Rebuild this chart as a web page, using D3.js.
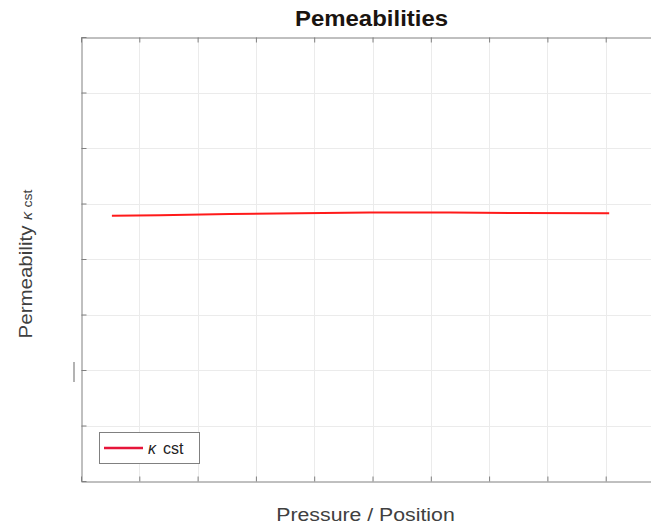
<!DOCTYPE html>
<html>
<head>
<meta charset="utf-8">
<script src="https://cdn.jsdelivr.net/npm/d3@7"></script>
<style>
  body { margin: 0; background: #fff; overflow: hidden; }
  text { font-family: "Liberation Sans", Arial, sans-serif; }
</style>
</head>
<body>
<div id="frame"></div>
<script>
// grid units: x 0..10, y 0..8 (axis has no tick labels)
const xTicks = [0, 1, 2, 3, 4, 5, 6, 7, 8, 9, 10];
const yTicks = [0, 1, 2, 3, 4, 5, 6, 7, 8];
const kappaX = [0.53, 1.35, 2.55, 3.75, 4.95, 6.33, 7.53, 9.06];
const kappaY = [4.78, 4.79, 4.81, 4.825, 4.838, 4.838, 4.828, 4.825];

const width = 651, height = 529;
const margin = { top: 37, left: 81, bottom: 48 };
const plotRight = 664; // axes run past the window edge

const svg = d3
  .select("#frame")
  .append("svg")
  .attr("width", width)
  .attr("height", height);

const x = d3.scaleLinear().domain([0, 10]).range([margin.left, plotRight]);
const y = d3.scaleLinear().domain([0, 8]).range([height - margin.bottom, margin.top]);

// grid
const grid = svg.append("g").attr("stroke", "#ebebeb").attr("stroke-width", 1);
grid.selectAll("line.gx")
  .data(xTicks.slice(1, -1))
  .join("line")
  .attr("x1", (d) => Math.round(x(d)) + 0.5)
  .attr("x2", (d) => Math.round(x(d)) + 0.5)
  .attr("y1", y(8))
  .attr("y2", y(0));
grid.selectAll("line.gy")
  .data(yTicks.slice(1, -1))
  .join("line")
  .attr("y1", (d) => Math.round(y(d)) + 0.5)
  .attr("y2", (d) => Math.round(y(d)) + 0.5)
  .attr("x1", x(0))
  .attr("x2", x(10));

// axes (MATLAB box with inward ticks, no labels)
const axisColor = "#808080";
svg.append("g")
  .attr("transform", `translate(0,${Math.round(y(0)) + 0.5})`)
  .call(d3.axisBottom(x).tickValues(xTicks).tickSizeInner(-5).tickSizeOuter(0).tickFormat(""))
  .call((g) => g.selectAll("path,line").attr("stroke", axisColor));
svg.append("g")
  .attr("transform", `translate(0,${Math.round(y(8)) + 0.5})`)
  .call(d3.axisTop(x).tickValues(xTicks).tickSizeInner(-5).tickSizeOuter(0).tickFormat(""))
  .call((g) => g.selectAll("path,line").attr("stroke", axisColor));
svg.append("g")
  .attr("transform", `translate(${Math.round(x(0)) + 0.5},0)`)
  .call(d3.axisLeft(y).tickValues(yTicks).tickSizeInner(-5).tickSizeOuter(0).tickFormat(""))
  .call((g) => g.selectAll("path,line").attr("stroke", axisColor));

// data line
const line = d3.line().x((d, i) => x(kappaX[i])).y((d) => y(d));
svg.append("path")
  .datum(kappaY)
  .attr("fill", "none")
  .attr("stroke", "#ff1a1a")
  .attr("stroke-width", 2)
  .attr("d", line);

// stray mark left of y axis
svg.append("line")
  .attr("x1", 74).attr("x2", 74)
  .attr("y1", 362).attr("y2", 382)
  .attr("stroke", "#808080").attr("stroke-width", 1.2);

// legend
const leg = svg.append("g");
leg.append("rect")
  .attr("x", 99.5).attr("y", 432.5)
  .attr("width", 100).attr("height", 31)
  .attr("fill", "#fff").attr("stroke", "#808080");
leg.append("line")
  .attr("x1", 104).attr("x2", 143)
  .attr("y1", 448).attr("y2", 448)
  .attr("stroke", "#e6153a").attr("stroke-width", 2.5);
const lt = leg.append("text").attr("x", 148).attr("y", 454).attr("font-size", 16).attr("fill", "#222");
lt.append("tspan").attr("font-style", "italic").text("κ");
lt.append("tspan").attr("dx", 7).text("cst");

// title
svg.append("text")
  .attr("transform", "translate(371.5,26) scale(1.09,1)")
  .attr("text-anchor", "middle")
  .attr("font-size", 22).attr("font-weight", "bold")
  .attr("fill", "#1a1410")
  .text("Pemeabilities");

// x label
svg.append("text")
  .attr("transform", "translate(365.5,521) scale(1.12,1)")
  .attr("text-anchor", "middle")
  .attr("font-size", 19).attr("fill", "#404040")
  .text("Pressure / Position");

// y label
const yl = svg.append("text")
  .attr("transform", "translate(32,264) rotate(-90) scale(1.08,1)")
  .attr("text-anchor", "middle")
  .attr("font-size", 19).attr("fill", "#404040");
yl.append("tspan").text("Permeability ");
yl.append("tspan").attr("font-style", "italic").attr("font-size", 15).text("κ");
yl.append("tspan").attr("font-size", 13).attr("dx", 4).text("cst");
</script>
</body>
</html>
